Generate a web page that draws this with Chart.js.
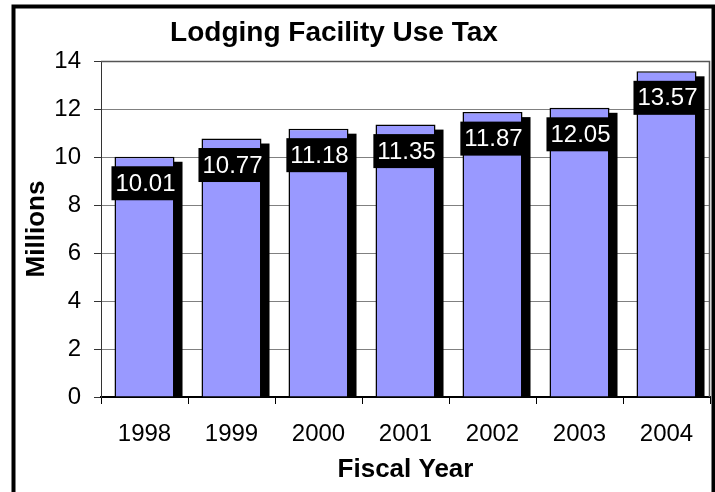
<!DOCTYPE html>
<html>
<head>
<meta charset="utf-8">
<script src="https://cdn.jsdelivr.net/npm/chart.js@4/dist/chart.umd.min.js"></script>
<style>
  html, body { margin: 0; padding: 0; background: #fff; }
  #wrap { position: relative; width: 715px; height: 492px; }
</style>
</head>
<body>
<div id="wrap"><canvas id="c" width="715" height="492"></canvas></div>
<script>
const titleText = "Lodging Facility Use Tax";
const yAxisTitle = "Millions";
const xAxisTitle = "Fiscal Year";
const categories = ["1998", "1999", "2000", "2001", "2002", "2003", "2004"];
const taxValues = [10.01, 10.77, 11.18, 11.35, 11.87, 12.05, 13.57];
const yMin = 0, yMax = 14, yStep = 2;

const FONT = '"Liberation Sans", Arial, sans-serif';

const decorPlugin = {
  id: 'decor',
  beforeDatasetsDraw(chart) {
    const ctx = chart.ctx, area = chart.chartArea;
    const meta = chart.getDatasetMeta(0);
    ctx.save();
    ctx.beginPath();
    ctx.rect(area.left, area.top, area.right - area.left, area.bottom - area.top);
    ctx.clip();
    ctx.fillStyle = '#000';
    meta.data.forEach(bar => {
      const w = bar.width;
      ctx.fillRect(bar.x - w / 2 + 8, bar.y + 5, w, bar.base - bar.y - 5);
    });
    ctx.restore();
  },
  afterDatasetsDraw(chart) {
    const ctx = chart.ctx;
    const meta = chart.getDatasetMeta(0);
    ctx.save();
    ctx.font = '24px ' + FONT;
    ctx.textAlign = 'center';
    ctx.textBaseline = 'middle';
    meta.data.forEach((bar, i) => {
      const txt = taxValues[i].toFixed(2);
      const tw = ctx.measureText(txt).width;
      const bw = tw + 8;
      const cx = bar.x + 1;
      const top = bar.y + 9.5;
      ctx.fillStyle = '#000';
      ctx.fillRect(cx - bw / 2, top, bw, 34);
      ctx.fillStyle = '#fff';
      ctx.fillText(txt, cx, top + 18);
    });
    ctx.restore();
  },
  afterDraw(chart) {
    const ctx = chart.ctx, area = chart.chartArea;
    ctx.save();
    ctx.strokeStyle = '#555';
    ctx.lineWidth = 1.5;
    ctx.beginPath();
    ctx.moveTo(area.left, area.top + 0.5);
    ctx.lineTo(area.right - 0.5, area.top + 0.5);
    ctx.lineTo(area.right - 0.5, area.bottom);
    ctx.stroke();
    ctx.fillStyle = '#000';
    ctx.font = 'bold 28px ' + FONT;
    ctx.textAlign = 'center';
    ctx.textBaseline = 'alphabetic';
    ctx.fillText(titleText, 334, 41);
    ctx.strokeStyle = '#000';
    ctx.lineWidth = 4;
    ctx.beginPath();
    ctx.moveTo(13.5, 500);
    ctx.lineTo(13.5, 6.5);
    ctx.lineTo(713.5, 6.5);
    ctx.lineTo(713.5, 500);
    ctx.stroke();
    ctx.restore();
  }
};

new Chart(document.getElementById('c'), {
  type: 'bar',
  data: {
    labels: categories,
    datasets: [{
      data: taxValues,
      backgroundColor: '#9999FF',
      borderColor: '#000000',
      borderWidth: 1.5,
      categoryPercentage: 1.0,
      barPercentage: 0.69
    }]
  },
  options: {
    responsive: false,
    animation: false,
    events: [],
    layout: { padding: { top: 61, right: 5, left: 0, bottom: 0 } },
    plugins: {
      legend: { display: false },
      title: { display: false },
      tooltip: { enabled: false }
    },
    scales: {
      x: {
        afterFit(s) { s.height = 95; },
        grid: { display: true, drawOnChartArea: false, drawTicks: true, tickLength: 7, tickColor: '#000', offset: true },
        border: { display: true, color: '#000', width: 2 },
        ticks: { color: '#000', font: { family: FONT, size: 24 }, padding: 16, maxRotation: 0 },
        title: { display: true, text: xAxisTitle, color: '#000', font: { family: FONT, size: 26, weight: 'bold' }, padding: { top: 0, bottom: 7 } }
      },
      y: {
        min: yMin, max: yMax,
        afterFit(s) { s.width = 101; },
        ticks: { stepSize: yStep, color: '#000', font: { family: FONT, size: 24 }, padding: 13 },
        grid: { color: '#808080', lineWidth: 1, tickColor: '#333', tickLength: 7 },
        border: { display: true, color: '#333', width: 1 },
        title: { display: true, text: yAxisTitle, color: '#000', font: { family: FONT, size: 26, weight: 'bold' }, padding: { top: 21, bottom: 0 } }
      }
    }
  },
  plugins: [decorPlugin]
});
</script>
</body>
</html>
